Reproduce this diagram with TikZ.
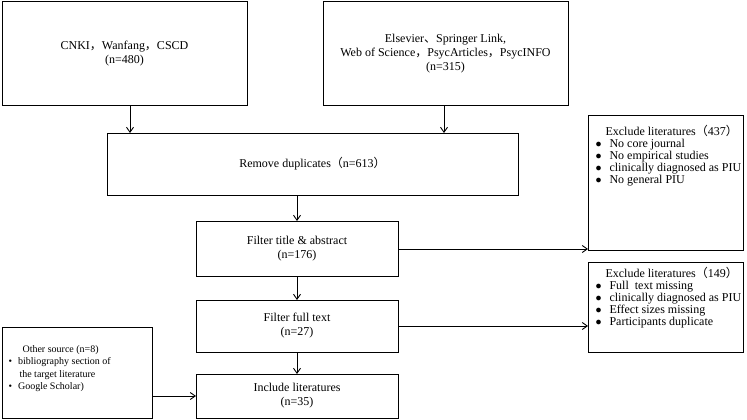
\documentclass[tikz,border=0pt]{standalone}
\usetikzlibrary{arrows.meta}
\usepackage{fontspec}
\setmainfont{Liberation Serif}
\newfontfamily\cjk{Noto Sans CJK SC}
\begin{document}
\begin{tikzpicture}[x=1pt,y=-1pt,
  box/.style={draw,line width=1pt,inner sep=0pt},
  lbl/.style={align=center,font=\fontsize{12}{14}\selectfont},
  arr/.style={-{Straight Barb[length=5pt,width=7pt]},line width=0.9pt}]
\useasboundingbox (0,0) rectangle (747,420);
\draw[box] (2,2) rectangle (247,105) node[midway,lbl] (t1) {CNKI{\cjk ，}Wanfang{\cjk ，}CSCD\\(n=480)};
\coordinate (b1) at (130,105);
\draw[box] (323,2) rectangle (568,105) node[midway,lbl] (t2) {Elsevier{\cjk 、}Springer Link,\\Web of Science{\cjk ，}PsycArticles{\cjk ，}PsycINFO\\(n=315)};
\coordinate (b2) at (444,105);
\draw[box] (107,133) rectangle (518,195) node[midway,lbl] (t3) {Remove duplicates{\cjk （}n=613{\cjk ）}};
\coordinate (c1) at (130,133); \coordinate (c2) at (444,133);
\coordinate (d3) at (297,195);
\draw[box] (196,221) rectangle (398,276) node[midway,lbl] (t4) {Filter title \& abstract\\(n=176)};
\coordinate (u4) at (297,221); \coordinate (d4) at (297,276); \coordinate (r4) at (398,249);
\draw[box] (196,300) rectangle (398,352) node[midway,lbl] (t5) {Filter full text\\(n=27)};
\coordinate (u5) at (297,300); \coordinate (d5) at (297,352); \coordinate (r5) at (398,326);
\draw[box] (196,374) rectangle (398,418) node[midway,lbl] (t6) {Include literatures\\(n=35)};
\coordinate (u6) at (297,374); \coordinate (l6) at (196,396);
\draw[box] (588,115) rectangle (743,250);
\coordinate (e1) at (588,249);
\node[lbl,anchor=north west,align=left] (x1) at (592,122) {\hspace*{10pt}Exclude literatures{\cjk （}437{\cjk ）}\\[-2pt]
 $\bullet$\hspace{8pt}No core journal\\[-2pt] $\bullet$\hspace{8pt}No empirical studies\\[-2pt] $\bullet$\hspace{8pt}clinically diagnosed as PIU\\[-2pt] $\bullet$\hspace{8pt}No general PIU};
\draw[box] (588,262) rectangle (743,352);
\coordinate (e2) at (588,326);
\node[lbl,anchor=north west,align=left] (x2) at (592,264) {\hspace*{10pt}Exclude literatures{\cjk （}149{\cjk ）}\\[-2pt]
 $\bullet$\hspace{8pt}Full\ \ text missing\\[-2pt] $\bullet$\hspace{8pt}clinically diagnosed as PIU\\[-2pt] $\bullet$\hspace{8pt}Effect sizes missing\\[-2pt] $\bullet$\hspace{8pt}Participants duplicate};
\draw[box] (2,327) rectangle (152,418);
\coordinate (o) at (152,396);
\node[align=left,anchor=north west,font=\fontsize{10}{12.5}\selectfont] (x3) at (5,342) {\hspace*{14pt}Other source (n=8)\\
 \textbullet\hspace{6pt}bibliography section of\\ \hspace*{11pt}the target literature\\ \textbullet\hspace{6pt}Google Scholar)};
\draw[arr] (b1) -- (c1);
\draw[arr] (b2) -- (c2);
\draw[arr] (d3) -- (u4);
\draw[arr] (d4) -- (u5);
\draw[arr] (d5) -- (u6);
\draw[arr] (r4) -- (e1);
\draw[arr] (r5) -- (e2);
\draw[arr] (o) -- (l6);
\end{tikzpicture}
\end{document}
